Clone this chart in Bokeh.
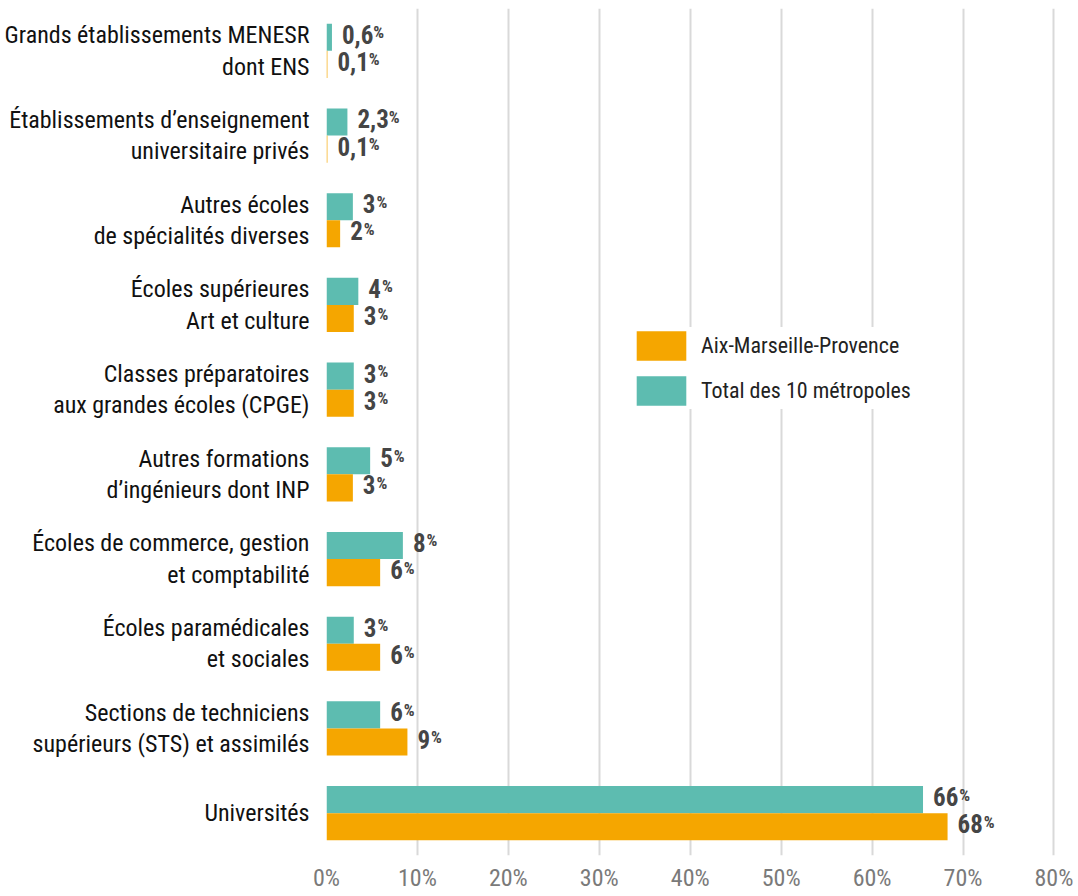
from bokeh.plotting import figure
from bokeh.models import (FactorRange, FixedTicker, Legend, LegendItem,
                          ColumnDataSource, PrintfTickFormatter, Range1d)
from bokeh.transform import dodge
from bokeh.core.properties import value
from bokeh.embed import file_html
from bokeh.resources import INLINE

# ---------------- data (top to bottom, as in the chart) ----------------
categories = [
    "Grands établissements MENESR\ndont ENS",
    "Établissements d’enseignement\nuniversitaire privés",
    "Autres écoles\nde spécialités diverses",
    "Écoles supérieures\nArt et culture",
    "Classes préparatoires\naux grandes écoles (CPGE)",
    "Autres formations\nd’ingénieurs dont INP",
    "Écoles de commerce, gestion\net comptabilité",
    "Écoles paramédicales\net sociales",
    "Sections de techniciens\nsupérieurs (STS) et assimilés",
    "Universités",
]
total_10 = [0.6, 2.3, 2.9, 3.5, 3.0, 4.8, 8.4, 3.0, 5.9, 65.6]
aix = [0.1, 0.1, 1.5, 3.0, 3.0, 2.9, 5.9, 5.9, 8.9, 68.3]
total_labels = ["0,6", "2,3", "3", "4", "3", "5", "8", "3", "6", "66"]
aix_labels = ["0,1", "0,1", "2", "3", "3", "3", "6", "6", "9", "68"]
x_ticks = [0, 10, 20, 30, 40, 50, 60, 70, 80]

TEAL = "#5DBCB0"
ORANGE = "#F5A600"
FONT = "Roboto Condensed"
NUM_FS = 25


def num_width(s):
    w = 0.0
    for ch in s:
        w += 0.2 * NUM_FS if ch == "," else 0.505 * NUM_FS
    return w


src = ColumnDataSource(dict(
    cat=categories,
    total=total_10,
    aix=aix,
    tlab=total_labels,
    alab=aix_labels,
    tpct=["%"] * len(categories),
    tpx=[10 + num_width(s) + 1 for s in total_labels],
    apx=[10 + num_width(s) + 1 for s in aix_labels],
))

p = figure(width=1078, height=896, output_backend="svg", toolbar_location=None,
           y_range=FactorRange(factors=categories[::-1], range_padding=0),
           x_range=Range1d(0, 80.5),
           min_border_left=326, min_border_right=20, min_border_top=8,
           min_border_bottom=41)
p.outline_line_color = None
p.background_fill_color = "white"
p.border_fill_color = "white"

bar_h = 0.32
r_teal = p.hbar(y=dodge("cat", bar_h / 2, range=p.y_range), right="total", left=0,
                height=bar_h, source=src, fill_color=TEAL, line_color=None)
r_orange = p.hbar(y=dodge("cat", -bar_h / 2, range=p.y_range), right="aix", left=0,
                  height=bar_h, source=src, fill_color=ORANGE, line_color=None)

for col, pcol, off in (("tlab", "tpx", bar_h / 2), ("alab", "apx", -bar_h / 2)):
    xcol = "total" if col == "tlab" else "aix"
    p.text(x=xcol, y=dodge("cat", off, range=p.y_range), text=col, source=src,
           x_offset=10, y_offset=-3, text_baseline="middle", text_align="left",
           text_font=value(FONT), text_font_style="bold",
           text_font_size=f"{NUM_FS}px", text_color="#454545")
    p.text(x=xcol, y=dodge("cat", off, range=p.y_range), text="tpct", source=src,
           x_offset=pcol, y_offset=-15, text_baseline="top", text_align="left",
           text_font=value(FONT), text_font_style="bold",
           text_font_size="17px", text_color="#454545")

# axes
for ax in (p.xaxis, p.yaxis):
    ax.axis_line_color = None
    ax.major_tick_line_color = None
    ax.minor_tick_line_color = None
    ax.major_tick_out = 0
    ax.major_tick_in = 0
    ax.minor_tick_out = 0
    ax.minor_tick_in = 0
    ax.major_label_text_font = FONT

p.xaxis.ticker = FixedTicker(ticks=x_ticks)
p.xaxis.formatter = PrintfTickFormatter(format="%d%%")
p.xaxis.major_label_text_font_size = "24px"
p.xaxis.major_label_text_color = "#7a7a7a"
p.xaxis.major_label_standoff = 8

p.yaxis.major_label_text_font_size = "24px"
p.yaxis.major_label_text_color = "#111111"
p.yaxis.major_label_text_line_height = 1.12
p.yaxis.major_label_standoff = 17

p.xgrid.grid_line_color = "#d9d9d9"
p.xgrid.grid_line_width = 2
p.ygrid.grid_line_color = None

legend = Legend(items=[LegendItem(label="Aix-Marseille-Provence", renderers=[r_orange]),
                       LegendItem(label="Total des 10 métropoles", renderers=[r_teal])],
                location=(304, 446), glyph_width=62, glyph_height=37,
                label_standoff=9, spacing=8, padding=16, margin=0,
                border_line_color=None, background_fill_color="white",
                background_fill_alpha=1.0, label_text_font=FONT,
                label_text_font_size="22px", label_text_color="#222222")
p.add_layout(legend)

open("out.html", "w").write(file_html(p, INLINE))
